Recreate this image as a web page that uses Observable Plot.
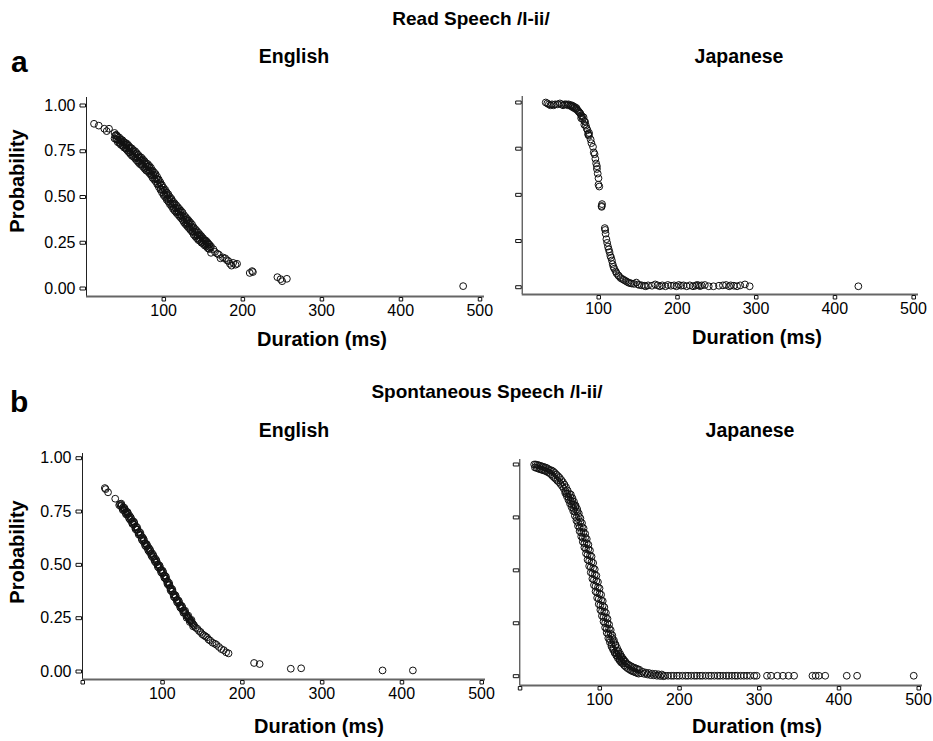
<!DOCTYPE html>
<html>
<head>
<meta charset="utf-8">
<script src="https://cdn.jsdelivr.net/npm/d3@7"></script>
<script src="https://cdn.jsdelivr.net/npm/@observablehq/plot@0.6"></script>
<style>
  html, body { margin: 0; padding: 0; background: #fff; }
  #fig { position: relative; width: 933px; height: 741px; font-family: "Liberation Sans", Arial, Helvetica, sans-serif; color: #000; }
  .t { position: absolute; line-height: 1; white-space: nowrap; font-weight: bold; }
  .c { transform: translateX(-50%); }
  .rot { transform: translate(-50%, -50%) rotate(-90deg); }
  .p { position: absolute; }
</style>
</head>
<body>
<div id="fig">
  <div class="t c" style="left:471px; top:9px; font-size:19px;">Read Speech /l-ii/</div>
  <div class="t" style="left:11px; top:47px; font-size:30px;">a</div>
  <div class="t c" style="left:294px; top:47px; font-size:19.5px;">English</div>
  <div class="t c" style="left:739px; top:47px; font-size:19.5px;">Japanese</div>
  <div class="t rot" style="left:17px; top:181px; font-size:20px;">Probability</div>
  <div class="t c" style="left:322px; top:329px; font-size:20px;">Duration (ms)</div>
  <div class="t c" style="left:757px; top:327px; font-size:20px;">Duration (ms)</div>

  <div class="t c" style="left:487px; top:382px; font-size:19px;">Spontaneous Speech /l-ii/</div>
  <div class="t" style="left:10px; top:387px; font-size:30px;">b</div>
  <div class="t c" style="left:294px; top:421px; font-size:19.5px;">English</div>
  <div class="t c" style="left:750px; top:421px; font-size:19.5px;">Japanese</div>
  <div class="t rot" style="left:17px; top:552px; font-size:20px;">Probability</div>
  <div class="t c" style="left:319px; top:716px; font-size:20px;">Duration (ms)</div>
  <div class="t c" style="left:757px; top:716px; font-size:20px;">Duration (ms)</div>
</div>
<script>
// ---- tick values ----
const yTicks = [0, 0.25, 0.5, 0.75, 1];
const xTickLabels = [100, 200, 300, 400, 500];
const xTickMarksRead = [100, 200, 300, 400, 500];
const xTickMarksSpont = [0, 100, 200, 300, 400, 500];

// ---- data: [duration (ms), probability] ----
const readEnglish = [
  [12,0.90],[18,0.89],[25,0.873],[28,0.86],[31,0.873],
  [38,0.85],[38,0.82],[39,0.835],[40,0.84],[40,0.815],[42,0.83],[42,0.80],[43,0.81],[44,0.825],[44,0.795],
  [46,0.815],[46,0.785],[47,0.80],[48,0.81],[48,0.78],[50,0.80],[50,0.77],[51,0.785],[52,0.795],[52,0.765],
  [54,0.79],[54,0.755],[55,0.77],[56,0.78],[56,0.745],[58,0.77],[58,0.735],[59,0.75],[60,0.765],[60,0.725],
  [62,0.755],[62,0.72],[63,0.735],[64,0.75],[64,0.71],[66,0.74],[66,0.70],[67,0.715],[68,0.73],[68,0.69],
  [70,0.72],[70,0.68],[71,0.70],[72,0.715],[72,0.675],[74,0.705],[74,0.665],[75,0.685],[76,0.695],[76,0.655],
  [78,0.685],[78,0.645],[79,0.665],[80,0.68],[80,0.64],[82,0.67],[82,0.63],[83,0.645],[84,0.66],[84,0.62],
  [86,0.645],[86,0.605],[87,0.62],[88,0.635],[88,0.595],[90,0.625],[90,0.585],[91,0.60],[92,0.61],[92,0.57],
  [94,0.595],[94,0.555],[95,0.575],[96,0.58],[96,0.54],[98,0.565],[98,0.525],[99,0.54],[100,0.55],[100,0.51],
  [102,0.54],[102,0.50],[103,0.515],[104,0.525],[104,0.485],[106,0.515],[106,0.475],[107,0.49],[108,0.50],[108,0.46],
  [110,0.49],[110,0.45],[111,0.465],[112,0.475],[112,0.435],[114,0.465],[114,0.425],[115,0.44],[116,0.455],[116,0.415],
  [118,0.445],[118,0.405],[119,0.42],[120,0.435],[120,0.395],[122,0.425],[122,0.385],[123,0.40],[124,0.415],[124,0.375],
  [126,0.40],[126,0.36],[127,0.375],[128,0.39],[128,0.35],[130,0.38],[130,0.34],[131,0.355],[132,0.37],[132,0.33],
  [134,0.36],[134,0.32],[135,0.34],[136,0.35],[136,0.31],[138,0.335],[138,0.295],[139,0.31],[140,0.325],[140,0.285],
  [142,0.315],[142,0.275],[143,0.29],[144,0.305],[144,0.265],[146,0.295],[146,0.26],[147,0.275],[148,0.285],[148,0.25],
  [150,0.275],[150,0.245],[151,0.26],[152,0.265],[152,0.235],[154,0.26],[154,0.23],[155,0.245],[156,0.25],[156,0.22],
  [158,0.24],[158,0.215],[159,0.225],[160,0.23],[160,0.195],[163,0.215],[165,0.20],[168,0.19],[170,0.185],[172,0.165],
  [175,0.17],[178,0.165],[180,0.155],[182,0.15],[184,0.135],[186,0.125],[188,0.14],[191,0.13],[193,0.135],
  [209,0.085],[212,0.095],[213,0.09],[244,0.062],[248,0.051],[250,0.04],[256,0.053],[479,0.013]
];
const readEnglishMore = [
  [41,0.835],[41,0.815],[45,0.815],[45,0.795],[49,0.80],[49,0.78],[53,0.785],[53,0.765],[57,0.765],[57,0.745],
  [61,0.75],[61,0.73],[65,0.735],[65,0.715],[69,0.715],[69,0.695],[73,0.70],[73,0.68],[77,0.68],[77,0.66],
  [81,0.665],[81,0.645],[85,0.64],[85,0.62],[89,0.62],[89,0.60],[93,0.593],[93,0.573],[97,0.563],[97,0.543],
  [101,0.535],[101,0.515],[105,0.51],[105,0.49],[109,0.485],[109,0.465],[113,0.46],[113,0.44],[117,0.44],[117,0.42],
  [121,0.42],[121,0.40],[125,0.39],[125,0.37],[129,0.375],[129,0.355],[133,0.355],[133,0.335],[137,0.33],[137,0.31],
  [141,0.31],[141,0.29],[145,0.29],[145,0.27],[149,0.275],[149,0.255],[153,0.26],[153,0.24],[157,0.24],[157,0.22]
];

const readJapanese = [
  [33,1.0],[35,0.995],[37,0.99],[39,0.985],[41,0.99],[43,0.985],[45,0.99],[48,0.99],[51,0.995],[53,0.99],
  [55,0.985],[57,0.99],[59,0.99],[61,0.985],[62,0.99],[64,0.985],[65,0.98],[66,0.985],[67,0.975],[68,0.98],
  [69,0.97],[70,0.975],[71,0.965],[72,0.97],[73,0.96],[74,0.955],[75,0.95],[76,0.945],[77,0.94],[78,0.93],
  [78,0.915],[79,0.925],[80,0.91],[81,0.92],[82,0.90],[82,0.88],[83,0.895],[84,0.875],[85,0.86],[86,0.85],
  [87,0.83],[87,0.825],[88,0.82],[88,0.835],[90,0.80],[91,0.78],[93,0.76],[94,0.73],[95,0.72],[96,0.695],
  [97,0.67],[98,0.655],[98,0.64],[99,0.615],[100,0.59],[100,0.555],[101,0.545],[104,0.44],[104,0.435],[104.5,0.45],
  [108,0.32],[108.5,0.31],[109,0.29],[110,0.26],[111,0.24],[112,0.22],[113,0.205],[114,0.19],[115,0.17],[116,0.16],
  [117,0.145],[118,0.125],[119,0.11],[120,0.10],[122,0.085],[123,0.075],[125,0.065],[126,0.06],[128,0.05],[130,0.045],
  [132,0.04],[134,0.035],[136,0.03],[138,0.025],[140,0.022],[142,0.02],[145,0.018],[148,0.025],[150,0.015],[152,0.012],
  [155,0.01],[158,0.008],[160,0.005],[163,0.01],[168,0.008],[172,0.015],[175,0.01],[178,0.005],[181,0.01],[185,0.005],
  [188,0.012],[192,0.008],[196,0.01],[199,0.005],[202,0.012],[205,0.008],[208,0.01],[212,0.005],[216,0.01],[220,0.005],
  [223,0.008],[225,0.012],[227,0.01],[229,0.006],[231,0.01],[235,0.012],[240,0.005],[246,0.005],[253,0.008],[258,0.01],
  [262,0.012],[266,0.005],[268,0.01],[272,0.008],[276,0.005],[280,0.01],[286,0.015],[292,0.005],[430,0.005]
];

const spontEnglish = [
  [28,0.86],[29,0.855],[32,0.84],[41,0.81],[46,0.78],
  [47,0.785],[48,0.775],[49,0.78],[50,0.765],[51,0.77],[52,0.755],[53,0.76],[54,0.745],[55,0.75],[56,0.735],
  [57,0.74],[58,0.725],[59,0.73],[60,0.71],[61,0.715],[62,0.70],[63,0.705],[64,0.69],[65,0.695],[66,0.675],
  [67,0.68],[68,0.665],[69,0.665],[70,0.65],[71,0.655],[72,0.64],[73,0.64],[74,0.625],[75,0.63],[76,0.61],
  [77,0.615],[78,0.60],[79,0.60],[80,0.585],[81,0.59],[82,0.575],[83,0.58],[84,0.56],[85,0.565],[86,0.55],
  [87,0.555],[88,0.535],[89,0.54],[90,0.525],[91,0.53],[92,0.51],[93,0.515],[94,0.50],[95,0.50],[96,0.485],
  [97,0.49],[98,0.475],[99,0.475],[100,0.46],[101,0.465],[102,0.45],[103,0.45],[104,0.435],[105,0.435],[106,0.42],
  [107,0.42],[108,0.405],[109,0.405],[110,0.39],[111,0.39],[112,0.375],[113,0.375],[114,0.36],[115,0.36],[116,0.345],
  [117,0.35],[118,0.335],[119,0.335],[120,0.32],[121,0.325],[122,0.31],[123,0.31],[124,0.295],[125,0.30],[126,0.285],
  [127,0.285],[128,0.275],[129,0.275],[130,0.265],[131,0.26],[132,0.255],[133,0.25],[134,0.245],[135,0.24],[136,0.235],
  [137,0.23],[138,0.225],[139,0.22],[140,0.215],[142,0.205],[144,0.20],[146,0.19],[148,0.185],[150,0.175],[152,0.17],
  [154,0.165],[156,0.16],[158,0.15],[160,0.145],[163,0.135],[166,0.13],[168,0.125],[171,0.115],[174,0.105],[177,0.10],
  [180,0.09],[183,0.085],
  [215,0.04],[222,0.035],[261,0.013],[274,0.015],[376,0.005],[414,0.005]
];
const spontEnglishMore = [
  [48.5,0.787],[50.5,0.757],[52.5,0.767],[54.5,0.737],[56.5,0.747],[58.5,0.717],[60.5,0.722],[62.5,0.692],[64.5,0.702],[66.5,0.667],
  [68.5,0.675],[70.5,0.642],[72.5,0.65],[74.5,0.617],[76.5,0.622],[78.5,0.59],[80.5,0.597],[82.5,0.567],[84.5,0.572],[86.5,0.542],
  [88.5,0.547],[90.5,0.517],[92.5,0.522],[94.5,0.49],[96.5,0.497],[98.5,0.465],[100.5,0.472],[102.5,0.44],[104.5,0.445],[106.5,0.41],
  [108.5,0.415],[110.5,0.38],[112.5,0.385],[114.5,0.35],[116.5,0.357],[118.5,0.325],[120.5,0.332],[122.5,0.30],[124.5,0.307],[126.5,0.275],
  [128.5,0.285],[130.5,0.252],[132.5,0.262],[134.5,0.232],[136.5,0.242],[138.5,0.212]
];

const spontJapanese = [
  [18,1.0],[19,0.986],[20,1.0],[21,0.984],[22,0.998],[23,0.981],[24,0.996],[25,0.978],[26,0.993],[27,0.976],
  [28,0.991],[29,0.973],[30,0.988],[31,0.971],[32,0.986],[33,0.968],[34,0.983],[35,0.964],[36,0.978],[37,0.96],
  [38,0.973],[39,0.954],[40,0.972],[41,0.946],[42,0.967],[43,0.939],[44,0.96],[45,0.932],[46,0.952],[47,0.924],
  [48,0.945],[49,0.917],[50,0.937],[51,0.908],[52,0.927],[53,0.898],[54,0.917],[55,0.887],[56,0.905],[57,0.874],
  [58,0.892],[59,0.861],[60,0.877],[61,0.846],[62,0.862],[63,0.829],[64,0.845],[65,0.812],[66,0.827],[67,0.794],
  [68,0.81],[69,0.777],[70,0.80],[71,0.749],[72,0.778],[73,0.726],[74,0.755],[75,0.703],[76,0.73],[77,0.678],
  [78,0.705],[79,0.653],[80,0.68],[81,0.628],[82,0.655],[83,0.601],[84,0.628],[85,0.574],[86,0.60],[87,0.545],
  [88,0.57],[89,0.515],[90,0.54],[91,0.485],[92,0.51],[93,0.455],[94,0.48],[95,0.425],[96,0.45],[97,0.395],
  [98,0.42],[99,0.365],[100,0.39],[101,0.335],[102,0.36],[103,0.306],[104,0.333],[105,0.279],[106,0.305],[107,0.251],
  [108,0.278],[109,0.224],[110,0.25],[111,0.198],[112,0.225],[113,0.173],[114,0.20],[115,0.15],[116,0.18],[117,0.13],
  [118,0.16],[119,0.113],[120,0.145],[121,0.108],[122,0.12],[123,0.094],[124,0.108],[125,0.081],[126,0.095],[127,0.07],
  [128,0.085],[129,0.06],[130,0.075],[131,0.051],[132,0.068],[133,0.044],[134,0.06],[135,0.038],[136,0.055],[137,0.033],
  [138,0.05],[139,0.028],[140,0.046],[141,0.024],[142,0.042],[143,0.021],[144,0.039],[145,0.018],[146,0.036],[147,0.015],
  [148,0.033],[149,0.012],[150,0.03],[152,0.014],[154,0.021],[156,0.011],[158,0.017],[160,0.008],[162,0.015],[164,0.005],
  [166,0.012],[168,0.004],[170,0.011],[172,0.002],[174,0.009],[176,0.001],[178,0.008],[180,0.0],
  [182,0.002],[186,0.002],[190,0.002],[193,0.002],[197,0.002],[200,0.002],[204,0.002],[208,0.002],[211,0.002],[215,0.002],
  [219,0.002],[222,0.002],[226,0.002],[229,0.002],[233,0.002],[237,0.002],[240,0.002],[244,0.002],[248,0.002],[251,0.002],
  [255,0.002],[259,0.002],[262,0.002],[266,0.002],[270,0.002],[273,0.002],[277,0.002],[281,0.002],[285,0.002],[289,0.002],
  [294,0.002],[297,0.002],[310,0.002],[315,0.002],[323,0.002],[330,0.002],[337,0.002],[344,0.002],[367,0.002],[371,0.002],
  [375,0.002],[383,0.002],[410,0.002],[423,0.002],[494,0.002]
];
const spontJapaneseMore = [
  [57,0.865],[64,0.858],[59,0.85],[66,0.841],[61,0.833],[68,0.824],[63,0.815],[70,0.806],[65,0.798],[72,0.789],
  [67,0.78],[74,0.769],[69,0.758],[76,0.746],[71,0.735],[78,0.723],[73,0.71],[80,0.698],[75,0.685],[82,0.673],
  [77,0.66],[84,0.648],[79,0.635],[86,0.621],[81,0.608],[88,0.594],[83,0.58],[90,0.565],[85,0.55],[92,0.535],
  [87,0.52],[94,0.505],[89,0.49],[96,0.475],[91,0.46],[98,0.445],[93,0.43],[100,0.415],[95,0.40],[102,0.385],
  [97,0.37],[104,0.355],[99,0.34],[106,0.326],[101,0.313],[108,0.299],[103,0.285],[110,0.271],[105,0.258],[112,0.244],
  [107,0.23],[114,0.218],[109,0.205],[116,0.193],[111,0.18],[118,0.17],[113,0.16],[120,0.15],[115,0.14],[122,0.133],
  [117,0.125],[124,0.118],[119,0.11],[126,0.104],[121,0.098],[128,0.091],[123,0.085],[130,0.08],[125,0.075],[132,0.07],
  [127,0.065]
];

// ---- custom tick symbols (hollow boxes like the original) ----
const yTickSymbol = { draw(ctx) { ctx.rect(-6.5, -1.5, 5.5, 3); } };
const xTickSymbol = { draw(ctx) { ctx.rect(-1.5, 1, 3.5, 3.5); } };

const fig = document.getElementById("fig");

function panel({data, xDomain, yDomain, left, top, width, height, mt, mr, mb, ml, yLabels, xMarks}) {
  const marks = [
    Plot.ruleX([xDomain[0]], {stroke: "#222", strokeWidth: 1}),
    Plot.ruleY([yDomain[0]], {stroke: "#666", strokeWidth: 2}),
    Plot.dot(yTicks, {x: () => xDomain[0], y: d => d, symbol: yTickSymbol, r: 3, fill: "white", stroke: "#111", strokeWidth: 1}),
    Plot.dot(xMarks, {x: d => d, y: () => yDomain[0], symbol: xTickSymbol, r: 3, fill: "white", stroke: "#111", strokeWidth: 1}),
    Plot.axisX(xTickLabels, {tickSize: 0, tickPadding: 8, label: null, fontSize: 16, tickFormat: d => String(d)}),
    Plot.dot(data, {x: d => d[0], y: d => d[1], r: 3.4, fill: "none", stroke: "#111", strokeWidth: 1})
  ];
  if (yLabels) {
    marks.push(Plot.axisY(yTicks, {tickSize: 0, tickPadding: 11, label: null, fontSize: 16, tickFormat: d3.format(".2f")}));
  }
  const chart = Plot.plot({
    width, height,
    marginTop: mt, marginRight: mr, marginBottom: mb, marginLeft: ml,
    x: {domain: xDomain, axis: null},
    y: {domain: yDomain, axis: null},
    style: {fontFamily: "'Liberation Sans', Arial, Helvetica, sans-serif", fontSize: "16px", color: "#000", background: "transparent", overflow: "visible"},
    marks
  });
  chart.classList.add("p");
  chart.style.left = left + "px";
  chart.style.top = top + "px";
  fig.appendChild(chart);
}

// Read speech, English
panel({data: readEnglish.concat(readEnglishMore), xDomain: [2.5, 506], yDomain: [-0.0437, 1.0437],
  left: 0, top: 85, width: 500, height: 240, mt: 12, mr: 16, mb: 29, ml: 86, yLabels: true, xMarks: xTickMarksRead});
// Read speech, Japanese
panel({data: readJapanese, xDomain: [3.1, 506.4], yDomain: [-0.0395, 1.0325],
  left: 500, top: 85, width: 433, height: 240, mt: 11, mr: 15, mb: 31, ml: 21.7, yLabels: false, xMarks: xTickMarksRead});
// Spontaneous speech, English
panel({data: spontEnglish.concat(spontEnglishMore), xDomain: [0, 505], yDomain: [-0.0375, 1.022],
  left: 0, top: 440, width: 500, height: 270, mt: 13, mr: 15, mb: 31, ml: 82, yLabels: true, xMarks: xTickMarksSpont});
// Spontaneous speech, Japanese
panel({data: spontJapanese.concat(spontJapaneseMore), xDomain: [0, 505], yDomain: [-0.044, 1.0236],
  left: 500, top: 440, width: 433, height: 270, mt: 19, mr: 11, mb: 25, ml: 19.3, yLabels: false, xMarks: xTickMarksSpont});
</script>
</body>
</html>
